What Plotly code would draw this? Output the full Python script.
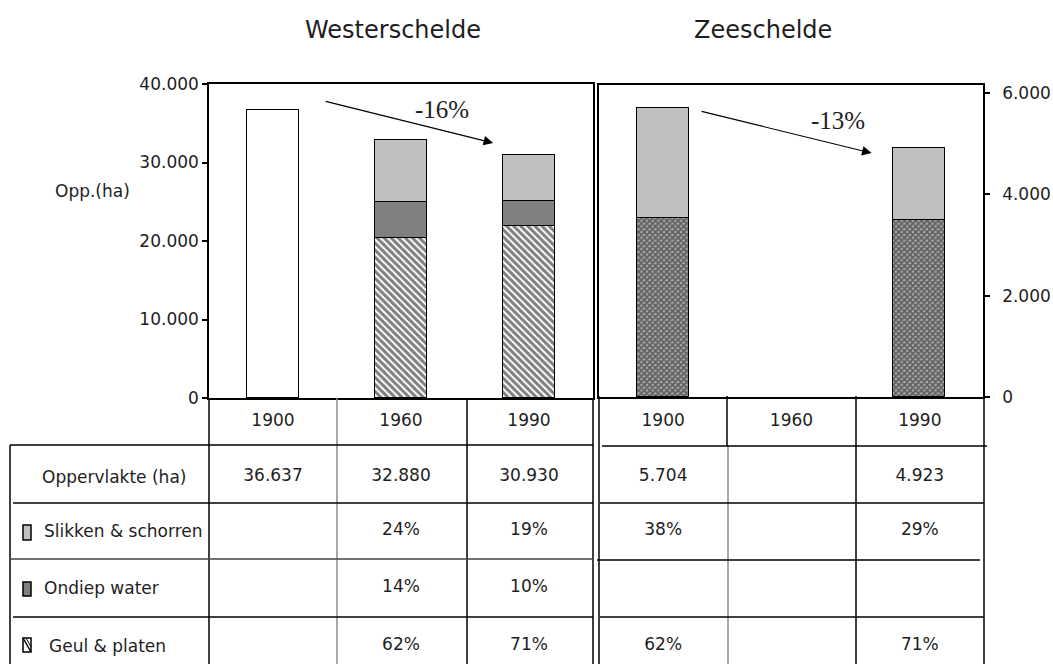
import plotly.graph_objects as go

W, H = 1053, 664

# ---------------- data ----------------
years = ["1900", "1960", "1990"]

# Westerschelde
ws_total = [36637, 32880, 30930]
ws_slikken = [None, 24, 19]
ws_ondiep = [None, 14, 10]
ws_geul = [None, 62, 71]

# Zeeschelde
zs_total = [5704, None, 4923]
zs_slikken = [38, None, 29]
zs_ondiep = [None, None, None]
zs_geul = [62, None, 71]

row_labels = ["Oppervlakte (ha)", "Slikken & schorren", "Ondiep water", "Geul & platen"]
titles = ["Westerschelde", "Zeeschelde"]
changes = ["-16%", "-13%"]
ytitle = "Opp.(ha)"
ws_ticks = [0, 10000, 20000, 30000, 40000]
zs_ticks = [0, 2000, 4000, 6000]

# ---------------- style ----------------
FONT = "DejaVu Sans"
TXT = "#1e1e1e"
C_SLIK = "#c0c0c0"
C_ONDIEP = "#808080"


def px(x):
    return x / W


def py(y):
    return 1 - y / H


def seg(total, pct):
    return [t * p / 100 if (t is not None and p is not None) else None for t, p in zip(total, pct)]


def fmt_ha(v):
    return "" if v is None else f"{v:,}".replace(",", ".")


def fmt_pct(v):
    return "" if v is None else f"{v}%"


fig = go.Figure()

bar_line = dict(color="black", width=1.5)
BW = 0.4

# ---- Westerschelde bars ----
ws_plain = [t if all(p is None for p in (s, o, g)) else None
            for t, s, o, g in zip(ws_total, ws_slikken, ws_ondiep, ws_geul)]
fig.add_trace(go.Bar(x=years, y=seg(ws_total, ws_geul), width=BW, xaxis="x", yaxis="y",
                     marker=dict(color="white", line=bar_line,
                                 pattern=dict(shape="\\", size=5, solidity=0.6,
                                              fgcolor="#000000", bgcolor="white", fillmode="overlay")),
                     showlegend=False, hoverinfo="skip"))
fig.add_trace(go.Bar(x=years, y=seg(ws_total, ws_ondiep), width=BW, xaxis="x", yaxis="y",
                     marker=dict(color=C_ONDIEP, line=bar_line), showlegend=False, hoverinfo="skip"))
fig.add_trace(go.Bar(x=years, y=seg(ws_total, ws_slikken), width=BW, xaxis="x", yaxis="y",
                     marker=dict(color=C_SLIK, line=bar_line), showlegend=False, hoverinfo="skip"))
fig.add_trace(go.Bar(x=years, y=ws_plain, width=BW, xaxis="x", yaxis="y",
                     marker=dict(color="white", line=bar_line), showlegend=False, hoverinfo="skip"))

# ---- Zeeschelde bars ----
fig.add_trace(go.Bar(x=years, y=seg(zs_total, zs_geul), width=BW, xaxis="x2", yaxis="y2",
                     marker=dict(color="#666666", line=bar_line,
                                 pattern=dict(shape="x", size=4, solidity=0.65,
                                              fgcolor="#111111", bgcolor="#a8a8a8", fillmode="overlay")),
                     showlegend=False, hoverinfo="skip"))
fig.add_trace(go.Bar(x=years, y=seg(zs_total, zs_ondiep), width=BW, xaxis="x2", yaxis="y2",
                     marker=dict(color=C_ONDIEP, line=bar_line), showlegend=False, hoverinfo="skip"))
fig.add_trace(go.Bar(x=years, y=seg(zs_total, zs_slikken), width=BW, xaxis="x2", yaxis="y2",
                     marker=dict(color=C_SLIK, line=bar_line), showlegend=False, hoverinfo="skip"))

# ---------------- tables (text through table axes) ----------------
row_edges = [0, 47, 105, 161, 219, 277]
row_c = [(a + b) / 2 for a, b in zip(row_edges[:-1], row_edges[1:])]
row_c[1] += 3


def table_cells(total, s, o, g):
    xs, ys, ts = [], [], []
    for i, yr in enumerate(years):
        vals = [yr, fmt_ha(total[i]), fmt_pct(s[i]), fmt_pct(o[i]), fmt_pct(g[i])]
        for r, t in enumerate(vals):
            if t:
                xs.append(i)
                ys.append(row_c[r])
                ts.append(t)
    return xs, ys, ts


for (tot, s, o, g), xa, ya in [((ws_total, ws_slikken, ws_ondiep, ws_geul), "x3", "y3"),
                               ((zs_total, zs_slikken, zs_ondiep, zs_geul), "x4", "y4")]:
    xs, ys, ts = table_cells(tot, s, o, g)
    fig.add_trace(go.Scatter(x=xs, y=ys, text=ts, mode="text", xaxis=xa, yaxis=ya,
                             textfont=dict(family=FONT, size=17, color=TXT),
                             textposition="middle center", cliponaxis=False,
                             showlegend=False, hoverinfo="skip"))

UNIT = 128.0
HEAD_W = 199.0

axis_common = dict(showgrid=False, zeroline=False, showline=True, mirror=True,
                   linecolor="black", linewidth=1.5, automargin=False)

fig.update_layout(
    width=W, height=H,
    autosize=False,
    margin=dict(l=0, r=0, t=0, b=0, pad=0, autoexpand=False),
    paper_bgcolor="white", plot_bgcolor="white",
    barmode="stack", bargap=0,
    separators=",.",
    font=dict(family=FONT, size=17, color=TXT),
    xaxis=dict(domain=[px(209), px(593)], type="category", categoryorder="array",
               categoryarray=years, range=[-0.5, 2.5], showticklabels=False, ticks="",
               anchor="y", **axis_common),
    yaxis=dict(domain=[py(398), py(84)], range=[0, 40000], tickvals=ws_ticks, tickformat=",",
               ticks="outside", ticklen=5, tickwidth=1.5, tickcolor="black",
               tickfont=dict(family=FONT, size=17, color=TXT), anchor="x", **axis_common),
    xaxis2=dict(domain=[px(599), px(983)], type="category", categoryorder="array",
                categoryarray=years, range=[-0.5, 2.5], showticklabels=False, ticks="",
                anchor="y2", **axis_common),
    yaxis2=dict(domain=[py(397), py(85)], range=[0, 6160], tickvals=zs_ticks, tickformat=",",
                side="right", ticks="outside", ticklen=5, tickwidth=1.5, tickcolor="black",
                ticklabelstandoff=9,
                tickfont=dict(family=FONT, size=17, color=TXT), anchor="x2", **axis_common),
    xaxis3=dict(domain=[px(10), px(593)], range=[-0.5 - HEAD_W / UNIT, 2.5], visible=False,
                anchor="y3", automargin=False),
    yaxis3=dict(domain=[0, py(398)], range=[266, 0], visible=False, anchor="x3", automargin=False),
    xaxis4=dict(domain=[px(599), px(984)], range=[-0.5, 2.5], visible=False, anchor="y4",
                automargin=False),
    yaxis4=dict(domain=[0, py(398)], range=[266, 0], visible=False, anchor="x4", automargin=False),
)

# ---------------- grid lines of the tables ----------------
shapes = []


def line(x0, y0, x1, y1, color="black", width=1.5):
    shapes.append(dict(type="line", xref="paper", yref="paper",
                       x0=px(x0), y0=py(y0), x1=px(x1), y1=py(y1),
                       line=dict(color=color, width=width)))


# left table
line(209, 398, 209, 664)
line(337, 398, 337, 664, color="#8a8a8a")
line(467, 398, 467, 664)
line(593, 398, 593, 664)
line(10, 445, 10, 664)
line(10, 445, 593, 445)
line(13, 503, 593, 503)
line(10, 559, 593, 559, color="#444444")
line(13, 617, 593, 617)
# right table
line(599, 396, 599, 664)
line(727, 396, 727, 446)
line(728, 446, 728, 664, color="#8a8a8a")
line(856, 396, 856, 664)
line(984, 396, 984, 664)
line(602, 446, 987, 446)
line(600, 503, 984, 503)
line(597, 560, 980, 560)
line(600, 617, 984, 617)

# legend icons in the row header
icon_x0, icon_x1 = 23, 31
for (y0, y1), fill in [((525, 540), C_SLIK), ((582, 596), C_ONDIEP), ((638, 652), "white")]:
    shapes.append(dict(type="rect", xref="paper", yref="paper",
                       x0=px(icon_x0), x1=px(icon_x1), y0=py(y1), y1=py(y0),
                       fillcolor=fill, line=dict(color="black", width=1.5)))
line(icon_x0, 638, icon_x1, 652, width=1.5)
line(icon_x0 + 3, 638, icon_x1, 647, width=1)

# ---------------- annotations ----------------
ann = []


def text_ann(text, x, y, size=17, family=FONT, xanchor="center"):
    ann.append(dict(text=text, x=px(x), y=py(y), xref="paper", yref="paper",
                    xanchor=xanchor, yanchor="middle", showarrow=False,
                    font=dict(family=family, size=size, color=TXT)))


text_ann(titles[0], 393, 30, size=24)
text_ann(titles[1], 763, 30, size=24)
text_ann(ytitle, 92, 191)

# trend arrows
ann.append(dict(x=1.72, y=32480, ax=0.40, ay=37830, xref="x", yref="y", axref="x", ayref="y",
                text="", showarrow=True, arrowhead=2, arrowsize=1.6, arrowwidth=1.2,
                arrowcolor="black"))
ann.append(dict(text=changes[0], x=1.32, y=36800, xref="x", yref="y", showarrow=False,
                xanchor="center", yanchor="middle",
                font=dict(family="Liberation Serif", size=25, color=TXT)))
ann.append(dict(x=1.63, y=4815, ax=0.29, ay=5645, xref="x2", yref="y2", axref="x2", ayref="y2",
                text="", showarrow=True, arrowhead=2, arrowsize=1.6, arrowwidth=1.2,
                arrowcolor="black"))
ann.append(dict(text=changes[1], x=1.37, y=5450, xref="x2", yref="y2", showarrow=False,
                xanchor="center", yanchor="middle",
                font=dict(family="Liberation Serif", size=25, color=TXT)))

# row header labels (left table)
label_pos = [(114, "center"), (42, "left"), (42, "left"), (47, "left")]
for r, (lab, (lx, anc)) in enumerate(zip(row_labels, label_pos)):
    text_ann(lab, lx, 398 + row_c[r + 1], xanchor=anc)

fig.update_layout(shapes=shapes, annotations=ann)

fig.write_html("out.html", config={"displayModeBar": False},
               post_script="document.body.style.margin='0';")
